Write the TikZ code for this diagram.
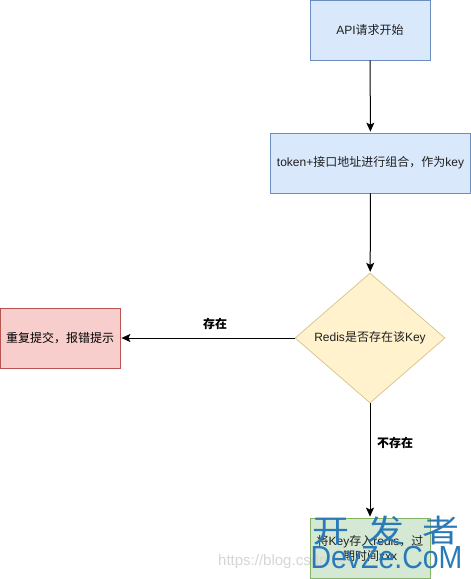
\documentclass[tikz,border=0pt]{standalone}
\usepackage{fontspec}
\setmainfont{Liberation Sans}
\newfontfamily\cjk{Noto Sans CJK SC}
\usetikzlibrary{arrows.meta,shapes.geometric}
\tikzset{
  x=1pt,y=-1pt,
  flowbox/.style={draw=#1,line width=0.75pt,minimum width=120pt,minimum height=60pt,inner sep=0pt,align=center,font=\fontsize{12}{15}\selectfont,text=black!88},
  link/.style={draw=black,line width=1pt,-{Stealth[length=9pt,width=8pt,inset=2pt]},shorten >=1pt},
  tag/.style={font=\cjk\bfseries\fontsize{12}{15}\selectfont,inner sep=0pt},
}
\definecolor{blueF}{HTML}{DAE8FC}\definecolor{blueD}{HTML}{6C8EBF}
\definecolor{yelF}{HTML}{FFF2CC}\definecolor{yelD}{HTML}{D6C68E}
\definecolor{redF}{HTML}{F8CECC}\definecolor{redD}{HTML}{B85450}
\definecolor{grnF}{HTML}{D5E8D4}\definecolor{grnD}{HTML}{82B366}
\definecolor{wmB}{HTML}{2A7AB8}
\begin{document}
\begin{tikzpicture}
\useasboundingbox (0,0) rectangle (471,579);
\fill[white] (0,0) rectangle (471,579);
\node[flowbox=blueD,fill=blueF] (api) at (370,30) {API{\cjk 请求开始}};
\node[flowbox=blueD,fill=blueF,minimum width=200pt] (tok) at (370.5,163) {token+{\cjk 接口地址进行组合，作为}key};
\node[diamond,draw=yelD,fill=yelF,line width=0.75pt,minimum width=150pt,minimum height=130pt,inner sep=0pt,font=\fontsize{12}{15}\selectfont,text=black!88] (red) at (370,338) {Redis{\cjk 是否存在该}Key};
\node[flowbox=redD,fill=redF,font=\cjk\fontsize{12}{15}\selectfont,text=black] (err) at (60,338) {重复提交，报错提示};
\node[flowbox=grnD,fill=grnF] (save) at (370,548) {{\cjk 将}Key{\cjk 存入}redis{\cjk ，过}\\{\cjk 期时间}xxx};
\draw[link] (api) -- (tok);
\draw[link] (tok) -- (red);
\draw[link] (red) -- (err);
\draw[link] (red) -- (save);
\node[tag] (t1) at (215,324) {存在};
\node[tag] (t2) at (395,443) {不存在};
\node[font=\fontsize{15}{18}\selectfont,text=black!16,anchor=west,inner sep=0pt] (wm2) at (218,562) {https://blog.csdn.net};
\node[font=\cjk\fontsize{37}{40}\selectfont,text=wmB,inner sep=0pt,yscale=0.85] (wm0) at (386,531) {开\hspace{18pt}发\hspace{18pt}者};
\node[font=\fontsize{32}{35}\selectfont,text=wmB,inner sep=0pt,xscale=0.89] (wm1) at (386.5,557) {DevZe.CoM};
\end{tikzpicture}
\end{document}
